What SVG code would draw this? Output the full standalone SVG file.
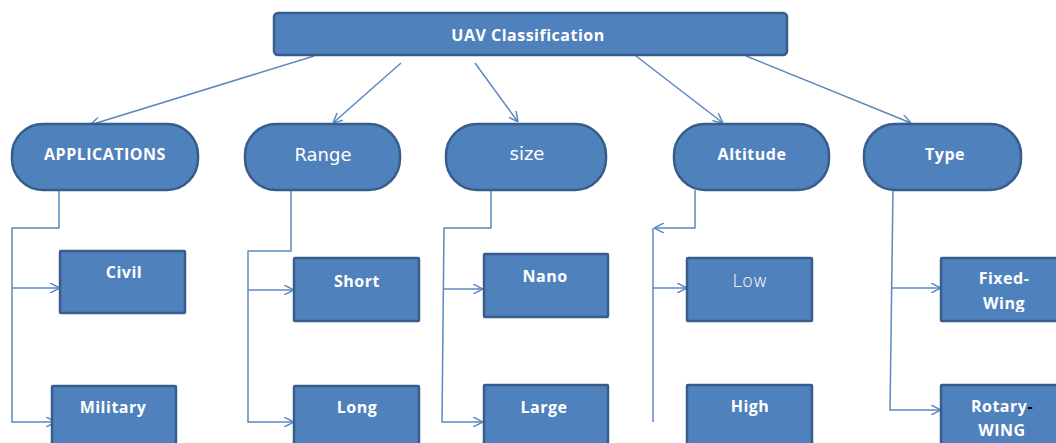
<svg xmlns="http://www.w3.org/2000/svg" width="1056" height="443" viewBox="0 0 1056 443">
<style>
.box{fill:#4F81BD;stroke:#385D8A;stroke-width:2.5}
.conn{fill:none;stroke:#5B88C0;stroke-width:1.5}
.b{font-family:"Open Sans","Liberation Sans",sans-serif;font-weight:bold;font-size:16px;fill:#fff;text-anchor:middle;letter-spacing:0.5px}
.n{font-family:"DejaVu Sans","Liberation Sans",sans-serif;font-size:18px;fill:#fff;text-anchor:middle}
.l{font-family:"DejaVu Sans","Liberation Sans",sans-serif;font-weight:300;font-size:18px;fill:#fff;text-anchor:middle}
</style>
<defs>
<marker id="ah" viewBox="0 0 10 10" refX="10" refY="5" markerWidth="10" markerHeight="10" markerUnits="userSpaceOnUse" orient="auto">
<path d="M0,0 L10,5 L0,10" fill="none" stroke="#5B88C0" stroke-width="1.5"/>
</marker>
<clipPath id="cw"><rect x="941" y="250" width="120" height="62"/></clipPath>
</defs>
<g id="connectors">
<path class="conn" d="M314,56 L90,125" marker-end="url(#ah)"/>
<path class="conn" d="M401,63 L333,123" marker-end="url(#ah)"/>
<path class="conn" d="M475,63 L518,122" marker-end="url(#ah)"/>
<path class="conn" d="M636,56 L723,123" marker-end="url(#ah)"/>
<path class="conn" d="M746,56 L911,123" marker-end="url(#ah)"/>
<path class="conn" d="M59,190 V228 H12 V422 H56" marker-end="url(#ah)"/>
<path class="conn" d="M12,288 H60" marker-end="url(#ah)"/>
<path class="conn" d="M291,190 V251 H248 V422 H294" marker-end="url(#ah)"/>
<path class="conn" d="M248,290 H294" marker-end="url(#ah)"/>
<path class="conn" d="M491,190 V228 H444 L442,422 H483" marker-end="url(#ah)"/>
<path class="conn" d="M443,289 H483" marker-end="url(#ah)"/>
<path class="conn" d="M695,190 V228 H654" marker-end="url(#ah)"/>
<path class="conn" d="M653,228 V422"/>
<path class="conn" d="M653,288 H687" marker-end="url(#ah)"/>
<path class="conn" d="M893,190 L890,410 H941" marker-end="url(#ah)"/>
<path class="conn" d="M892,288 H941" marker-end="url(#ah)"/>
</g>
<g id="root">
<rect class="box" x="274" y="13" width="513" height="42" rx="4"/>
<text class="b" x="528" y="41">UAV Classification</text>
</g>
<g id="applications">
<rect class="box" x="12" y="124" width="186" height="66" rx="31"/>
<text class="b" x="105" y="160">APPLICATIONS</text>
</g>
<g id="range">
<rect class="box" x="245" y="124" width="155" height="66" rx="31"/>
<text class="n" x="323" y="161">Range</text>
</g>
<g id="size">
<rect class="box" x="446" y="124" width="160" height="66" rx="31"/>
<text class="n" x="527" y="160">size</text>
</g>
<g id="altitude">
<rect class="box" x="674" y="124" width="155" height="66" rx="31"/>
<text class="b" x="752" y="160">Altitude</text>
</g>
<g id="type">
<rect class="box" x="864" y="124" width="157" height="66" rx="31"/>
<text class="b" x="945" y="160">Type</text>
</g>
<g id="civil">
<rect class="box" x="60" y="251" width="125" height="62" rx="1"/>
<text class="b" x="124" y="278">Civil</text>
</g>
<g id="military">
<rect class="box" x="52" y="386" width="124" height="70" rx="1"/>
<text class="b" x="113" y="413">Military</text>
</g>
<g id="short">
<rect class="box" x="294" y="258" width="125" height="63" rx="1"/>
<text class="b" x="357" y="287">Short</text>
</g>
<g id="long">
<rect class="box" x="294" y="386" width="125" height="70" rx="1"/>
<text class="b" x="357" y="413">Long</text>
</g>
<g id="nano">
<rect class="box" x="484" y="254" width="124" height="63" rx="1"/>
<text class="b" x="545" y="282">Nano</text>
</g>
<g id="large">
<rect class="box" x="484" y="385" width="124" height="70" rx="1"/>
<text class="b" x="544" y="413">Large</text>
</g>
<g id="low">
<rect class="box" x="687" y="258" width="125" height="63" rx="1"/>
<text class="l" x="750" y="287">Low</text>
</g>
<g id="high">
<rect class="box" x="687" y="385" width="125" height="70" rx="1"/>
<text class="b" x="750" y="412">High</text>
</g>
<g id="fixed-wing">
<rect class="box" x="941" y="258" width="130" height="63" rx="1"/>
<text class="b" x="1004" y="284">Fixed-</text>
<text class="b" x="1004" y="309" clip-path="url(#cw)">Wing</text>
</g>
<g id="rotary-wing">
<rect class="box" x="941" y="385" width="130" height="70" rx="1"/>
<text class="b" x="1002" y="412">Rotary<tspan fill="#000">-</tspan></text>
<text class="b" x="1002" y="436">WING</text>
</g>
</svg>
